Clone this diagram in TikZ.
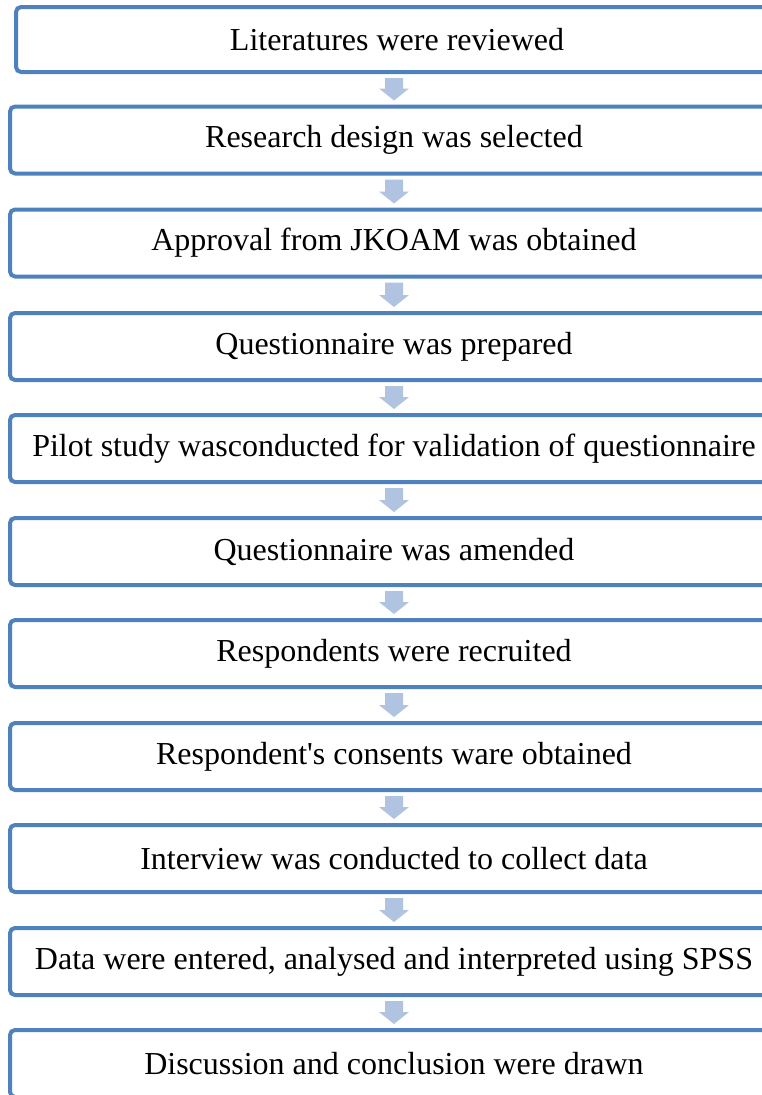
\documentclass[tikz,border=0pt]{standalone}
\usepackage{fontspec}
\setmainfont{Liberation Serif}[Ligatures=TeXOff]
\usetikzlibrary{calc}
\definecolor{boxblue}{HTML}{4F81BD}
\definecolor{arrowfill}{HTML}{B0C4E2}
\tikzset{
  stepbox/.style={draw=boxblue, line width=4pt, rounded corners=5pt, fill=white,
    minimum width=768pt, minimum height=67pt, inner sep=0pt, align=center,
    font=\fontsize{32}{38}\selectfont},
  blockarrow/.style={fill=arrowfill, draw=none}
}
\newcommand{\flowarrow}[2]{%
  \fill[blockarrow] let \p1=(#1.south), \p2=(#2.north) in
    (\x2-9pt,\y1-4pt) -- (\x2+9pt,\y1-4pt) -- (\x2+9pt,\y2+16pt) -- (\x2+15pt,\y2+16pt)
    -- (\x2,\y2+4pt) -- (\x2-15pt,\y2+16pt) -- (\x2-9pt,\y2+16pt) -- cycle;}
\begin{document}
\begin{tikzpicture}[x=1pt,y=1pt]
\useasboundingbox (0,0) rectangle (762,-1095);
\clip (0,0) rectangle (762,-1095);
\node[stepbox, minimum width=780pt, minimum height=65pt] (b1) at (406,-39.5) {\hspace*{-18pt}Literatures were reviewed};
\node[stepbox] (b2) at (394,-140) {Research design was selected};
\node[stepbox] (b3) at (394,-243) {Approval from JKOAM was obtained};
\node[stepbox] (b4) at (394,-346.5) {Questionnaire was prepared};
\node[stepbox] (b5) at (394,-448.5) {Pilot study wasconducted for validation of questionnaire};
\node[stepbox] (b6) at (394,-551.5) {Questionnaire was amended};
\node[stepbox] (b7) at (394,-653.5) {Respondents were recruited};
\node[stepbox] (b8) at (394,-756.5) {Respondent's consents ware obtained};
\node[stepbox] (b9) at (394,-858.5) {Interview was conducted to collect data};
\node[stepbox] (b10) at (394,-961.5) {Data were entered, analysed and interpreted using SPSS};
\node[stepbox] (b11) at (394,-1063.5) {Discussion and conclusion were drawn};
\flowarrow{b1}{b2}
\flowarrow{b2}{b3}
\flowarrow{b3}{b4}
\flowarrow{b4}{b5}
\flowarrow{b5}{b6}
\flowarrow{b6}{b7}
\flowarrow{b7}{b8}
\flowarrow{b8}{b9}
\flowarrow{b9}{b10}
\flowarrow{b10}{b11}
\end{tikzpicture}
\end{document}
